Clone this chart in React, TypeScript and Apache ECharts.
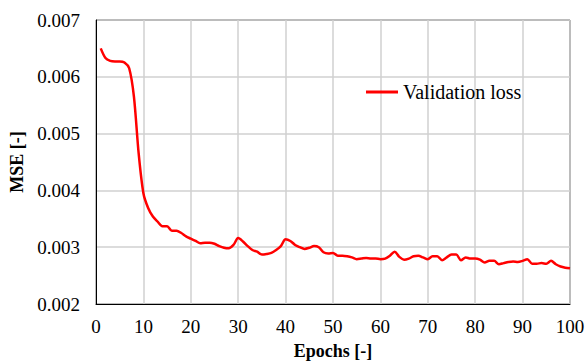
import React, { useEffect, useRef } from "react";
import * as echarts from "echarts";

const epochs: number[] = Array.from({ length: 100 }, (_, i) => i + 1);
const validationLoss: number[] = [
  0.0065, 0.00633, 0.00628, 0.00627, 0.00627, 0.00625, 0.00615, 0.00565, 0.00465, 0.00395,
  0.00369, 0.00354, 0.00345, 0.00337, 0.00337, 0.00329, 0.00329, 0.00325, 0.00319, 0.00315,
  0.00311, 0.00307, 0.00308, 0.00308, 0.00306, 0.00302, 0.00299, 0.00298, 0.00304, 0.00316,
  0.0031, 0.00302, 0.00295, 0.00292, 0.00287, 0.00288, 0.0029, 0.00295, 0.00302, 0.00314,
  0.00311, 0.00304, 0.003, 0.00297, 0.00299, 0.00302, 0.003, 0.00291, 0.00289, 0.0029,
  0.00285, 0.00285, 0.00284, 0.00282, 0.00279, 0.0028, 0.00281, 0.0028, 0.0028, 0.00279,
  0.0028, 0.00285, 0.00292, 0.00283, 0.00278, 0.0028, 0.00284, 0.00285, 0.00282, 0.00279,
  0.00284, 0.00284, 0.00277, 0.00282, 0.00287, 0.00287, 0.00277, 0.00282, 0.0028, 0.0028,
  0.00278, 0.00273, 0.00276, 0.00276, 0.0027, 0.00272, 0.00274, 0.00275, 0.00274, 0.00276,
  0.00279, 0.00271, 0.00271, 0.00272, 0.00271, 0.00276, 0.0027, 0.00266, 0.00264, 0.00263,
];
const seriesName = "Validation loss";
const xAxisTitle = "Epochs [-]";
const yAxisTitle = "MSE [-]";

const FONT = "Liberation Serif";

export default function App() {
  const ref = useRef<HTMLDivElement>(null);
  useEffect(() => {
    if (!ref.current) return;
    const chart = echarts.init(ref.current, undefined, { renderer: "svg" });
    chart.setOption({
      animation: false,
      backgroundColor: "#ffffff",
      textStyle: { fontFamily: FONT, fontSize: 19, color: "#000000" },
      grid: {
        left: 96,
        right: 17,
        top: 20,
        bottom: 60,
        show: true,
        borderColor: "#000000",
        borderWidth: 1,
        outerBoundsMode: "none",
        containLabel: false,
      },
      legend: {
        show: true,
        left: 366,
        top: 82,
        padding: 0,
        itemWidth: 32,
        itemHeight: 3,
        itemGap: 10,
        icon: "rect",
        textStyle: { fontFamily: FONT, fontSize: 20, color: "#000000" },
        data: [{ name: seriesName, icon: "rect" }],
      },
      xAxis: {
        type: "value",
        min: 0,
        max: 100,
        interval: 10,
        name: xAxisTitle,
        nameLocation: "middle",
        nameGap: 38,
        nameTextStyle: { fontFamily: FONT, fontSize: 18, fontWeight: "bold", color: "#000000" },
        axisLine: { show: true, lineStyle: { color: "#000000", width: 1 } },
        axisTick: { show: false },
        axisLabel: {
          show: true,
          fontFamily: FONT,
          fontSize: 19,
          color: "#000000",
          margin: 13,
        },
        splitLine: { show: true, lineStyle: { color: "#d0d0d0", width: 1.5 } },
      },
      yAxis: {
        type: "value",
        min: 0.002,
        max: 0.007,
        interval: 0.001,
        name: yAxisTitle,
        nameLocation: "middle",
        nameGap: 69,
        nameTextStyle: { fontFamily: FONT, fontSize: 18, fontWeight: "bold", color: "#000000" },
        axisLine: { show: true, lineStyle: { color: "#000000", width: 1 } },
        axisTick: { show: false },
        axisLabel: {
          show: true,
          fontFamily: FONT,
          fontSize: 19,
          color: "#000000",
          margin: 16,
          formatter: (v: number) => v.toFixed(3),
        },
        splitLine: { show: true, lineStyle: { color: "#d0d0d0", width: 1.5 } },
      },
      series: [
        {
          name: seriesName,
          type: "line",
          data: epochs.map((e, i) => [e, validationLoss[i]]),
          smooth: 0.3,
          showSymbol: false,
          symbol: "none",
          lineStyle: { color: "#ff0000", width: 2.5 },
          itemStyle: { color: "#ff0000" },
        },
      ],
    });
    return () => chart.dispose();
  }, []);
  return (
    <div
      ref={ref}
      style={{ position: "fixed", left: 0, top: 0, width: 587, height: 364, background: "#fff" }}
    />
  );
}
